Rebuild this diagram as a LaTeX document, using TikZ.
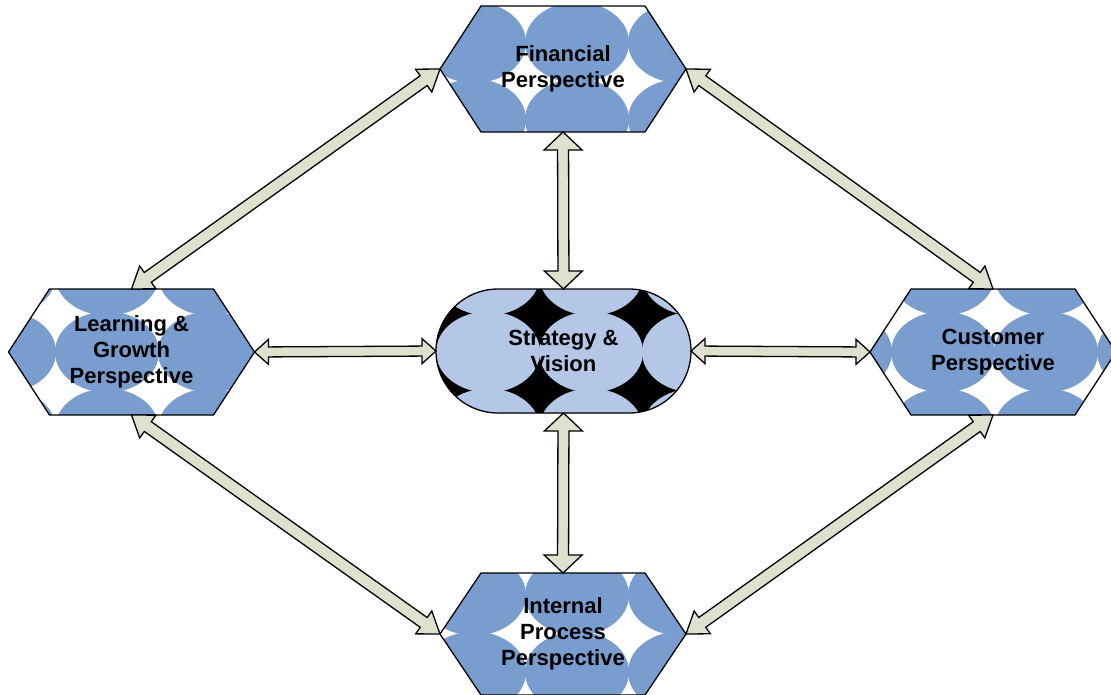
\documentclass[tikz,border=0pt]{standalone}
\usepackage{fontspec}
\setmainfont{Liberation Sans}
\usetikzlibrary{calc}

\definecolor{dotblue}{RGB}{122,157,208}
\definecolor{paleblue}{RGB}{180,199,231}
\definecolor{arrowfill}{RGB}{221,226,206}

\tikzset{
  shapeline/.style={draw=black, line width=1.3pt, line join=miter},
  labeltext/.style={font=\fontsize{22}{26}\selectfont\bfseries, align=center, text=black},
  frame/.style={rectangle, inner sep=0pt, outer sep=0pt, minimum width=246pt},
  blockarrow/.style={fill=arrowfill, draw=black, line width=1.3pt, line join=miter},
}

% grid of touching ellipses, used as the texture inside each shape
\newcommand\dotfield[3]{%
  \foreach \i in {-3,...,3}{%
    \foreach \j in {-2,...,2}{%
      \fill[#3] ({#1+103*\i},{#2+77*\j}) ellipse [x radius=52pt, y radius=40.5pt];
    }%
  }%
}

% hexagon: name, centre x, centre y, half height, texture origin x, texture origin y, text
\newcommand\hexshape[7]{%
  \begin{scope}
    \clip (#2-123,#3) -- (#2-82,#3-#4) -- (#2+82,#3-#4) -- (#2+123,#3)
          -- (#2+82,#3+#4) -- (#2-82,#3+#4) -- cycle;
    \fill[white] (#2-130,#3-#4-5) rectangle (#2+130,#3+#4+5);
    \dotfield{#5}{#6}{dotblue}
  \end{scope}
  \draw[shapeline] (#2-123,#3) -- (#2-82,#3-#4) -- (#2+82,#3-#4) -- (#2+123,#3)
          -- (#2+82,#3+#4) -- (#2-82,#3+#4) -- cycle;
  \node[frame, labeltext, minimum height={2pt*#4}] (#1) at (#2,#3) {#7};
}

% double-headed block arrow: from, to, shaft half width, head half width, head length
\newcommand\dblarrow[5]{%
  \draw[blockarrow] let \p1=(#1), \p2=(#2), \n1={atan2(\y2-\y1,\x2-\x1)} in
    (\p1) -- ($(\p1)+(\n1:#5)+(\n1+90:#4)$) -- ($(\p1)+(\n1:#5)+(\n1+90:#3)$)
    -- ($(\p2)+(\n1:-#5)+(\n1+90:#3)$) -- ($(\p2)+(\n1:-#5)+(\n1+90:#4)$)
    -- (\p2)
    -- ($(\p2)+(\n1:-#5)+(\n1-90:#4)$) -- ($(\p2)+(\n1:-#5)+(\n1-90:#3)$)
    -- ($(\p1)+(\n1:#5)+(\n1-90:#3)$) -- ($(\p1)+(\n1:#5)+(\n1-90:#4)$) -- cycle;
}

\begin{document}
\begin{tikzpicture}[x=1pt, y=-1pt]
  \useasboundingbox[fill=white] (0,0) rectangle (1111,695);

  % the four perspectives
  \hexshape{fin}{563}{69}{63}{474}{42.5}{Financial\\Perspective}
  \hexshape{lg}{131.5}{352}{63}{107}{352}{Learning \&\\Growth\\Perspective}
  \hexshape{cu}{993}{352}{63}{943}{352}{Customer\\Perspective}
  \hexshape{ip}{563}{634}{61}{474}{595}{Internal\\Process\\Perspective}

  % strategy and vision in the middle
  \begin{scope}
    \clip[rounded corners=62pt] (436,289) rectangle (691,413);
    \fill[black] (430,285) rectangle (700,420);
    \dotfield{488}{352}{paleblue}
  \end{scope}
  \draw[shapeline, rounded corners=62pt] (436,289) rectangle (691,413);
  \node[frame, labeltext, minimum width=255pt, minimum height=124pt] (sv) at (563.5,351) {Strategy \&\\Vision};

  % links between the perspectives and the centre
  \dblarrow{fin.south}{sv.north}{5.5pt}{19pt}{18pt}
  \dblarrow{sv.south}{ip.north}{5.5pt}{19pt}{18pt}
  \dblarrow{lg.east}{sv.west}{5pt}{12.5pt}{14pt}
  \dblarrow{sv.east}{cu.west}{5pt}{12.5pt}{14pt}

  % links around the outside
  \dblarrow{lg.north}{fin.west}{6pt}{14pt}{20pt}
  \dblarrow{fin.east}{cu.north}{6pt}{14pt}{20pt}
  \dblarrow{lg.south}{ip.west}{6pt}{14pt}{20pt}
  \dblarrow{cu.south}{ip.east}{6pt}{14pt}{20pt}
\end{tikzpicture}
\end{document}
